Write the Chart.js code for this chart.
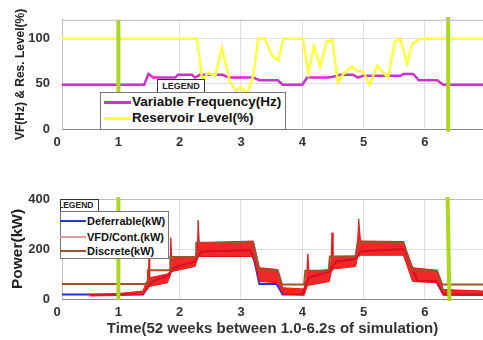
<!DOCTYPE html>
<html><head><meta charset="utf-8">
<script src="https://cdn.jsdelivr.net/npm/chart.js@4.4.0/dist/chart.umd.min.js"></script>
<style>
html,body{margin:0;padding:0;background:#fff;overflow:hidden;width:483px;height:340px;font-family:"Liberation Sans",Arial,sans-serif;}
canvas{position:absolute;left:0;}
#c1{top:0;} #c2{top:170px;}
.bx{position:absolute;background:#fff;box-sizing:border-box;}
.ln{position:absolute;}
.tx{position:absolute;font-weight:bold;color:#111;white-space:nowrap;}
</style></head>
<body>
<canvas id="c1" width="483" height="160"></canvas>
<canvas id="c2" width="483" height="170"></canvas>

<!-- top legend -->
<div class="bx" style="left:157px;top:79px;width:48px;height:14px;border:1px solid #333;font-weight:bold;font-size:9px;line-height:12px;text-align:center;color:#222;">LEGEND</div>
<div class="bx" style="left:100px;top:92px;width:186px;height:38px;border:1px solid #777;"></div>
<div class="ln" style="left:104px;top:101px;width:27px;height:3px;background:#cc33cc;"></div>
<div class="tx" style="left:132px;top:94px;font-size:13.5px;line-height:16px;">Variable Frequency(Hz)</div>
<div class="ln" style="left:104px;top:117px;width:27px;height:3px;background:#ffff3c;"></div>
<div class="tx" style="left:132px;top:110px;font-size:13.5px;line-height:16px;">Reservoir Level(%)</div>

<!-- bottom legend -->
<div class="bx" style="left:60px;top:199px;width:39px;height:13px;border:1px solid #333;overflow:hidden;">
  <div class="tx" style="left:-3px;top:0px;font-size:8.5px;line-height:11px;color:#222;">LEGEND</div>
</div>
<div class="bx" style="left:60px;top:211px;width:109px;height:48px;border:1px solid #777;"></div>
<div class="ln" style="left:60px;top:220px;width:26px;height:2px;background:#2233dd;"></div>
<div class="tx" style="left:87px;top:214px;font-size:11px;line-height:14px;">Deferrable(kW)</div>
<div class="ln" style="left:60px;top:236px;width:26px;height:2px;background:#e09a9a;"></div>
<div class="tx" style="left:87px;top:230px;font-size:11px;line-height:14px;">VFD/Cont.(kW)</div>
<div class="ln" style="left:60px;top:250px;width:26px;height:2px;background:#a0522d;"></div>
<div class="tx" style="left:87px;top:244px;font-size:11px;line-height:14px;">Discrete(kW)</div>

<script>
// ---------- data ----------
const xTicks = [0, 1, 2, 3, 4, 5, 6];
const topYTicks = [0, 50, 100];
const botYTicks = [0, 200, 400];

// top panel: variable frequency (Hz)
const vfX = [0, 1.42, 1.49, 1.57, 1.93, 1.97, 2.2, 2.25, 2.33, 2.7, 2.8, 3.2, 3.3, 3.6, 3.68, 4.0, 4.08, 4.42, 4.5, 4.62, 4.83, 4.91, 4.99, 5.6, 5.65, 5.81, 5.9, 6.2, 6.3, 7];
const vfY = [49, 49, 61, 57, 57, 60, 60, 57, 60, 60, 57, 57, 54, 54, 49, 49, 57, 57, 58, 60, 60, 57, 59, 59, 61, 61, 54, 54, 49, 49];

// top panel: reservoir level (%)
const resX = [0, 2.28, 2.37, 2.46, 2.58, 2.69, 2.82, 2.93, 2.99, 3.1, 3.2, 3.28, 3.39, 3.5, 3.61, 3.69, 4.01, 4.1, 4.19, 4.29, 4.4, 4.49, 4.58, 4.67, 4.81, 4.89, 4.99, 5.1, 5.22, 5.3, 5.4, 5.51, 5.6, 5.71, 5.79, 5.92, 7];
const resY = [100, 100, 54, 62, 59, 90, 52, 41, 47, 39, 59, 100, 100, 82, 76, 100, 100, 62, 92, 69, 97, 98, 52, 61, 69, 64, 64, 49, 70, 64, 57, 97, 100, 72, 94, 100, 100];

// green markers (start / end of 52-week window)
const markTopX = [1.0, 6.38];
const markTopTop = [121, 124];
const markTopBot = [36, -3];
const markBotX = [1.0, 6.37];
const markBotTop = [408, 408];
const markBotBot = [-4, -8];

// bottom panel: deferrable (kW)
const defX = [0, 1.4, 1.55, 1.82, 1.9, 2.25, 2.35, 3.15, 3.22, 3.3, 3.58, 3.68, 4.0, 4.1, 4.45, 4.55, 4.87, 4.95, 5.65, 5.75, 5.88, 6.18, 6.3, 6.95];
const defY = [18, 18, 70, 95, 125, 150, 190, 195, 150, 60, 60, 18, 18, 85, 110, 150, 160, 190, 200, 150, 72, 72, 18, 18];

// bottom panel: discrete (kW)
const discX = [0, 1.48, 1.48, 1.85, 1.85, 2.27, 2.27, 3.2, 3.3, 3.6, 3.67, 4.03, 4.05, 4.43, 4.45, 4.87, 4.9, 5.65, 5.72, 5.8, 6.2, 6.28, 6.95];
const discY = [60, 60, 115, 115, 168, 168, 225, 225, 113, 113, 58, 58, 113, 113, 170, 170, 225, 225, 170, 113, 113, 58, 58];

// bottom panel: VFD / continuous (kW) - envelope of the fast oscillation
const vfdX  = [0.53, 1.0, 1.4, 1.46, 1.49, 1.5, 1.51, 1.8, 1.84, 1.855, 1.87, 2.25, 2.29, 2.3, 2.32, 3.2, 3.3, 3.6, 3.68, 4.03, 4.07, 4.09, 4.11, 4.44, 4.47, 4.485, 4.5, 4.87, 4.9, 4.92, 4.95, 5.65, 5.8, 6.2, 6.3, 6.95];
const vfdLo = [12, 14, 18, 35, 45, 50, 50, 65, 90, 105, 110, 130, 160, 175, 170, 170, 70, 65, 20, 15, 45, 55, 55, 70, 105, 115, 120, 130, 165, 170, 175, 175, 70, 65, 15, 14];
const vfdHi = [18, 22, 32, 70, 80, 165, 85, 100, 110, 245, 160, 170, 200, 315, 225, 232, 125, 118, 45, 40, 85, 180, 110, 118, 155, 265, 170, 172, 215, 320, 232, 230, 125, 115, 38, 32];

// ---------- helpers ----------
const pts = (xs, ys) => xs.map((x, i) => ({x: x, y: ys[i]}));
const FONT = '"Liberation Sans", Arial, sans-serif';
Chart.defaults.font.family = FONT;
const GREEN = '#a9d81e';
const GRID = '#dedede';
const setTicks = vals => scale => { scale.ticks = vals.map(v => ({value: v})); };

const framePlugin = {
  id: 'frame',
  afterDraw(chart) {
    const {ctx, chartArea: a} = chart;
    ctx.save();
    ctx.strokeStyle = '#bdbdbd';
    ctx.lineWidth = 1;
    ctx.beginPath();
    ctx.moveTo(a.left, a.top + 0.5);
    ctx.lineTo(a.right, a.top + 0.5);
    ctx.stroke();
    ctx.restore();
  }
};

function xScale(h, title) {
  return {
    type: 'linear', min: 0.08, max: 6.948,
    afterBuildTicks: setTicks(xTicks),
    afterFit: s => { s.height = h; },
    ticks: {font: {size: 13, weight: 'bold'}, color: '#333', padding: 6, maxRotation: 0, autoSkip: false},
    grid: {color: c => (c.tick && c.tick.value === 0) ? 'rgba(0,0,0,0)' : GRID, drawTicks: false},
    border: {display: true, color: '#8a8a8a'},
    title: title ? {display: true, text: title, font: {size: 15, weight: 'bold'}, color: '#333', padding: {top: 0, bottom: 2}} : {display: false}
  };
}
function yScale(min, max, ticks, title, tsize, tpad) {
  return {
    min: min, max: max,
    afterBuildTicks: setTicks(ticks),
    afterFit: s => { s.width = 62; },
    ticks: {font: {size: 13, weight: 'bold'}, color: '#333', padding: 12},
    grid: {color: GRID, drawTicks: false},
    border: {display: true, color: '#bdbdbd'},
    title: {display: true, text: title, font: {size: tsize, weight: 'bold'}, color: '#222', padding: {top: tpad, bottom: 0}}
  };
}
const baseOpts = {
  responsive: false, animation: false, devicePixelRatio: 1, events: [],
  elements: {point: {radius: 0}, line: {tension: 0, borderCapStyle: 'butt'}},
  plugins: {legend: {display: false}, tooltip: {enabled: false}}
};

// ---------- top chart ----------
new Chart(document.getElementById('c1'), {
  type: 'line',
  data: {datasets: [
    {data: pts([markTopX[0], markTopX[0]], [markTopTop[0], markTopBot[0]]), borderColor: GREEN, borderWidth: 4, clip: false},
    {data: pts([markTopX[1], markTopX[1]], [markTopTop[1], markTopBot[1]]), borderColor: GREEN, borderWidth: 4, clip: false},
    {data: pts(resX, resY), borderColor: '#ffff3c', borderWidth: 2.5},
    {data: pts(vfX, vfY), borderColor: '#cc33cc', borderWidth: 2.5}
  ]},
  options: Object.assign({}, baseOpts, {
    layout: {padding: {top: 7, left: 0, right: 0, bottom: 0}},
    scales: {
      x: xScale(31, null),
      y: yScale(0, 121, topYTicks, 'VF(Hz) & Res. Level(%)', 12, 13)
    }
  }),
  plugins: [framePlugin]
});

// ---------- bottom chart ----------
new Chart(document.getElementById('c2'), {
  type: 'line',
  data: {datasets: [
    {data: pts([markBotX[0], markBotX[0]], [markBotTop[0], markBotBot[0]]), borderColor: GREEN, borderWidth: 4, clip: false},
    {data: pts([markBotX[1], markBotX[1] + 0.03], [markBotTop[1], markBotBot[1]]), borderColor: GREEN, borderWidth: 4, clip: false},
    {data: pts(discX, discY), borderColor: '#a0522d', borderWidth: 2},
    {data: pts(vfdX, vfdLo), borderColor: '#ee1111', borderWidth: 1},
    {data: pts(vfdX, vfdHi), borderColor: '#ee1111', borderWidth: 1, fill: '-1', backgroundColor: 'rgba(240,10,10,0.88)'},
    {data: pts(defX, defY), borderColor: '#2233dd', borderWidth: 2}
  ]},
  options: Object.assign({}, baseOpts, {
    layout: {padding: {top: 29, left: 0, right: 0, bottom: 0}},
    scales: {
      x: xScale(41, 'Time(52 weeks between 1.0-6.2s of simulation)'),
      y: yScale(0, 400, botYTicks, 'Power(kW)', 15.5, 8)
    }
  }),
  plugins: [framePlugin]
});
</script>
</body></html>
